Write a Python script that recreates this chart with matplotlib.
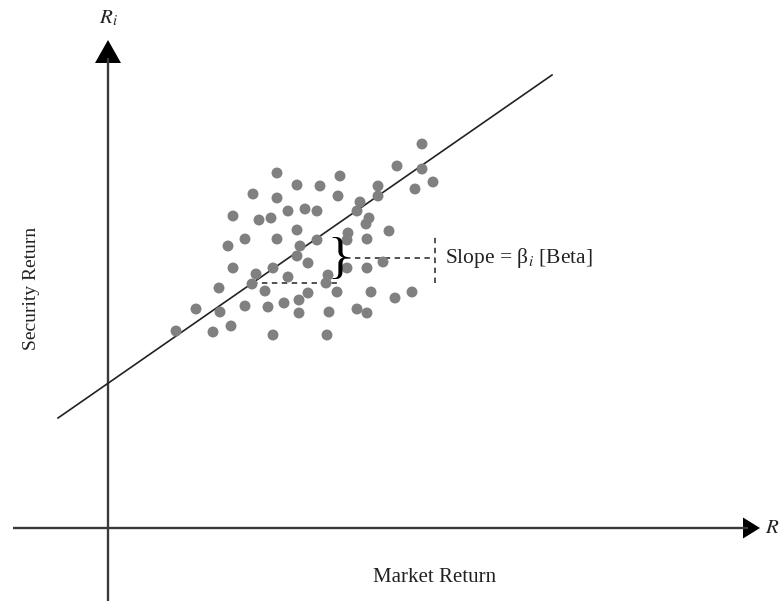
import matplotlib
matplotlib.use("Agg")
import matplotlib.pyplot as plt
from matplotlib.patches import Polygon

plt.rcParams['font.family'] = ['Liberation Serif', 'DejaVu Serif']
plt.rcParams['mathtext.fontset'] = 'stix'

# ---- data (market return x, security return y), schematic units ----
market_x = [314, 169, 232, 189, 212, 289, 270, 314, 325, 307, 145, 169, 230, 270, 252,
            125, 151, 163, 180, 197, 209, 249, 261, 258, 281, 189, 137, 169, 209, 240,
            239, 259, 120, 192, 189, 125, 165, 200, 239, 259, 275, 148, 180, 220, 218,
            144, 111, 157, 200, 229, 263, 287, 304, 191, 176, 137, 160, 249, 259, 191,
            221, 88, 112, 68, 105, 123, 165, 219]
security_y = [384, 355, 352, 343, 342, 362, 342, 359, 346, 339, 334, 330, 332, 332, 326,
              312, 308, 310, 317, 319, 317, 317, 310, 304, 297, 298, 289, 289, 288, 295,
              288, 289, 282, 282, 272, 260, 260, 265, 260, 260, 266, 254, 251, 253, 245,
              244, 240, 237, 235, 236, 236, 230, 236, 228, 225, 222, 221, 219, 215, 215,
              216, 219, 216, 197, 196, 202, 193, 193]
line_x = [-50, 444]
line_y = [110, 453]

fig = plt.figure(figsize=(7.79, 6.01), dpi=100)
ax = fig.add_axes([0, 0, 1, 1])
ax.set_xlim(-108, 671)
ax.set_ylim(-73, 528)
ax.axis('off')

axis_col = '#3a3a3a'
# axes lines
ax.plot([-95, 640], [0, 0], color=axis_col, lw=1.7, solid_capstyle='butt')
ax.plot([0, 0], [-73, 470], color=axis_col, lw=1.7, solid_capstyle='butt')
# arrowheads
ax.add_patch(Polygon([[635, -10.5], [635, 10.5], [652, 0]], closed=True, color='black', lw=0))
ax.add_patch(Polygon([[-13, 465], [13, 465], [0, 488]], closed=True, color='black', lw=0))

# regression line
ax.plot(line_x, line_y, color='#222222', lw=1.2)

# scatter points
ax.scatter(market_x, security_y, s=62, color='#808080', edgecolors='none', zorder=3)

# dashed construction lines
dash_col = '#444444'
ax.plot([144, 232], [245, 245], color=dash_col, lw=1.3, linestyle=(0, (3, 2.5)))
ax.plot([237, 327], [270, 270], color=dash_col, lw=1.3, linestyle=(0, (3, 2.5)))
ax.plot([327, 327], [245, 293], color=dash_col, lw=1.3, linestyle=(0, (3, 2.5)))
# brace
ax.text(232, 268, '}', fontsize=37, ha='center', va='center', color='black',
        family='Liberation Serif')

# texts
ax.text(337, 270, r'Slope = β$_i$ [Beta]', fontsize=15.5, ha='left', va='center',
        color='#222222')
ax.text(327, -49, 'Market Return', fontsize=15, ha='center', va='center', color='#222222')
ax.text(-77, 240, 'Security Return', fontsize=14, ha='center', va='center',
        rotation=90, color='#222222')
ax.text(0, 510, r'$R_i$', fontsize=15, ha='center', va='center', color='#222222')
ax.text(657, 0, r'$R_m$', fontsize=15, ha='left', va='center', color='#222222')

fig.savefig('out.png', dpi=100)
